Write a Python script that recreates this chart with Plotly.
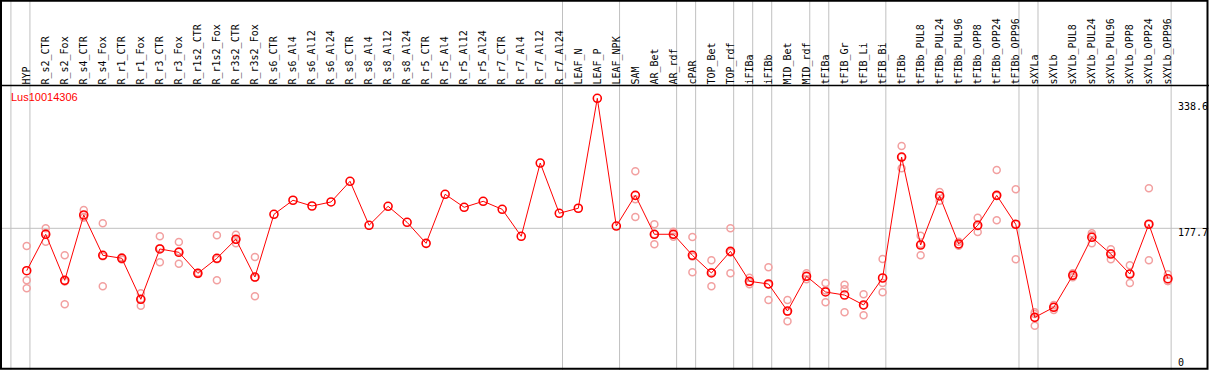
import plotly.graph_objects as go

W, H = 1209, 370

categories = ["HYP", "R_s2_CTR", "R_s2_Fox", "R_s4_CTR", "R_s4_Fox", "R_r1_CTR", "R_r1_Fox",
              "R_r3_CTR", "R_r3_Fox", "R_r1s2_CTR", "R_r1s2_Fox", "R_r3s2_CTR", "R_r3s2_Fox",
              "R_s6_CTR", "R_s6_Al4", "R_s6_Al12", "R_s6_Al24", "R_s8_CTR", "R_s8_Al4", "R_s8_Al12",
              "R_s8_Al24", "R_r5_CTR", "R_r5_Al4", "R_r5_Al12", "R_r5_Al24", "R_r7_CTR", "R_r7_Al4",
              "R_r7_Al12", "R_r7_Al24", "LEAF_N", "LEAF_P", "LEAF_NPK", "SAM", "AR_Bet", "AR_rdf",
              "cPAR", "TOP_Bet", "TOP_rdf", "iFIBa", "iFIBb", "MID_Bet", "MID_rdf", "tFIBa",
              "tFIB_Gr", "tFIB_Li", "tFIB_Bi", "tFIBb", "tFIBb_PUL8", "tFIBb_PUL24", "tFIBb_PUL96",
              "tFIBb_OPP8", "tFIBb_OPP24", "tFIBb_OPP96", "sXYLa", "sXYLb", "sXYLb_PUL8",
              "sXYLb_PUL24", "sXYLb_PUL96", "sXYLb_OPP8", "sXYLb_OPP24", "sXYLb_OPP96"]

mean_values = [125.2, 170.3, 113.3, 194.2, 144.3, 140.6, 89.8, 152.1, 148.0, 122.0, 140.6, 164.1, 117.4,
               195.0, 212.4, 205.3, 210.3, 235.9, 181.4, 204.9, 185.1, 159.1, 219.8, 203.7, 211.1,
               201.2, 167.8, 258.5, 196.3, 202.5, 338.6, 180.5, 218.5, 170.3, 170.3, 144.3, 122.4,
               149.2, 112.1, 108.8, 75.3, 118.3, 98.9, 95.1, 82.8, 116.2, 265.9, 157.0, 217.7, 158.3,
               181.4, 218.5, 182.7, 67.5, 79.9, 119.5, 166.6, 145.9, 121.1, 182.7, 115.3]

N = None
rep1 = [155.8, 177.7, 144.3, 200.3, 183.9, 139.0, 97.2, 167.8, 160.7, 121.0, 169.0, 169.8, 142.2,
        N, N, N, N, N, N, N, N, N, N, N, N, N, N, N, N, N, N, N,
        248.2, 182.7, 173.5, 166.9, 138.1, 177.7, 116.6, 129.4, 89.0, 122.0, 110.0, 107.9, 96.0,
        139.7, 279.6, 168.5, 222.6, 161.1, 190.8, 249.9, 226.0, 73.7, 82.8, 122.0, 171.5, 151.7,
        131.9, 227.2, 120.8]
rep2 = [113.3, 161.1, 83.6, 191.3, 105.9, 141.0, 81.9, 135.6, 133.9, 122.5, 113.3, 159.1, 93.5,
        N, N, N, N, N, N, N, N, N, N, N, N, N, N, N, N, N, N, N,
        213.6, 157.9, 167.3, 123.2, 105.9, 122.0, 108.4, 89.0, 62.6, 114.6, 86.1, 102.2, 70.0,
        110.0, 252.0, 144.3, 211.9, 156.2, 173.1, 187.6, 139.3, 57.1, 76.6, 117.1, 159.1, 139.3,
        110.0, 138.1, 112.5]
rep3 = [103.4, 171.9, 112.0, 191.0, 143.1, 142.0, 90.3, 152.9, 149.4, 122.5, 139.5, 163.4, 116.5,
        N, N, N, N, N, N, N, N, N, N, N, N, N, N, N, N, N, N, N,
        191.7, 170.3, 170.1, 142.8, 123.2, 147.9, 111.3, 108.0, 74.3, 118.3, 100.6, 73.7, 82.4,
        98.5, 266.1, 158.2, 218.6, 157.6, 180.3, 218.0, 182.8, 71.7, 80.3, 119.4, 169.2, 146.7,
        121.4, 182.8, 112.6]

group_ends = [-1, 0, 28, 31, 34, 35, 37, 38, 39, 41, 42, 45, 52, 53, 60]
ytick_vals = [338.6, 177.7, 0]
ytick_text = ["338.6", "177.7", "0"]
gene = "Lus10014306"

x = list(range(len(categories)))

# pixel mapping
x0_px, step_px = 26.7, 19.02
xa = -x0_px / step_px
xb = xa + W / step_px
top_px = 85.5
scale = 1.2377  # value per px
ref_val, ref_px = 177.7, 228.3
y_top = ref_val + (ref_px - top_px) * scale
y_bot = ref_val - (H - ref_px) * scale

fig = go.Figure()
pink = "#f2a0a0"
for reps in (rep1, rep2, rep3):
    fig.add_trace(go.Scatter(x=x, y=reps, mode="markers",
                             marker=dict(symbol="circle-open", size=7, color=pink,
                                         line=dict(width=1.5, color=pink)),
                             hoverinfo="skip", showlegend=False))
fig.add_trace(go.Scatter(x=x, y=mean_values, mode="lines+markers",
                         line=dict(color="red", width=1),
                         marker=dict(symbol="circle-open", size=8, color="red",
                                     line=dict(width=1.6, color="red")),
                         showlegend=False))

shapes = []
for g in group_ends:
    shapes.append(dict(type="line", xref="x", yref="paper", x0=g + 0.17, x1=g + 0.17, y0=0, y1=1,
                       line=dict(color="#c0c0c0", width=1), layer="below"))
shapes.append(dict(type="line", xref="paper", yref="y", x0=0, x1=1, y0=177.7, y1=177.7,
                   line=dict(color="#c0c0c0", width=1), layer="below"))
# frame
shapes.append(dict(type="rect", xref="paper", yref="paper", x0=1 / W, x1=1207.5 / W,
                   y0=1 - 368.8 / H, y1=1 - 0.8 / H, line=dict(color="black", width=2)))
shapes.append(dict(type="line", xref="paper", yref="paper", x0=0, x1=1,
                   y0=1 - top_px / H, y1=1 - top_px / H, line=dict(color="black", width=1.5)))

annotations = [dict(text=gene, xref="paper", yref="paper", x=9 / W, y=1 - 97.5 / H,
                    xanchor="left", yanchor="middle", showarrow=False,
                    font=dict(family="Liberation Sans, Arial", size=11, color="red"))]
label_px = {"338.6": 107, "177.7": 232, "0": 362}
for v, t in zip(ytick_vals, ytick_text):
    annotations.append(dict(text=t, xref="paper", yref="paper", x=1176 / W, y=1 - label_px[t] / H,
                            xanchor="left", yanchor="middle", showarrow=False,
                            font=dict(family="DejaVu Sans Mono", size=10, color="black")))

fig.update_layout(
    width=W, height=H, margin=dict(l=0, r=0, t=0, b=0),
    paper_bgcolor="white", plot_bgcolor="white",
    xaxis=dict(range=[xa, xb], side="top", tickmode="array", tickvals=x, ticktext=categories,
               tickangle=-90, ticks="", showgrid=False, zeroline=False, showline=False,
               tickfont=dict(family="DejaVu Sans Mono", size=10, color="black")),
    yaxis=dict(range=[y_bot, y_top], domain=[0, 1 - top_px / H], showticklabels=False,
               showgrid=False, zeroline=False, showline=False, ticks=""),
    shapes=shapes, annotations=annotations,
)
fig.write_html("out.html", config={"displayModeBar": False},
               post_script="document.body.style.margin='0px';document.body.style.overflow='hidden';")
